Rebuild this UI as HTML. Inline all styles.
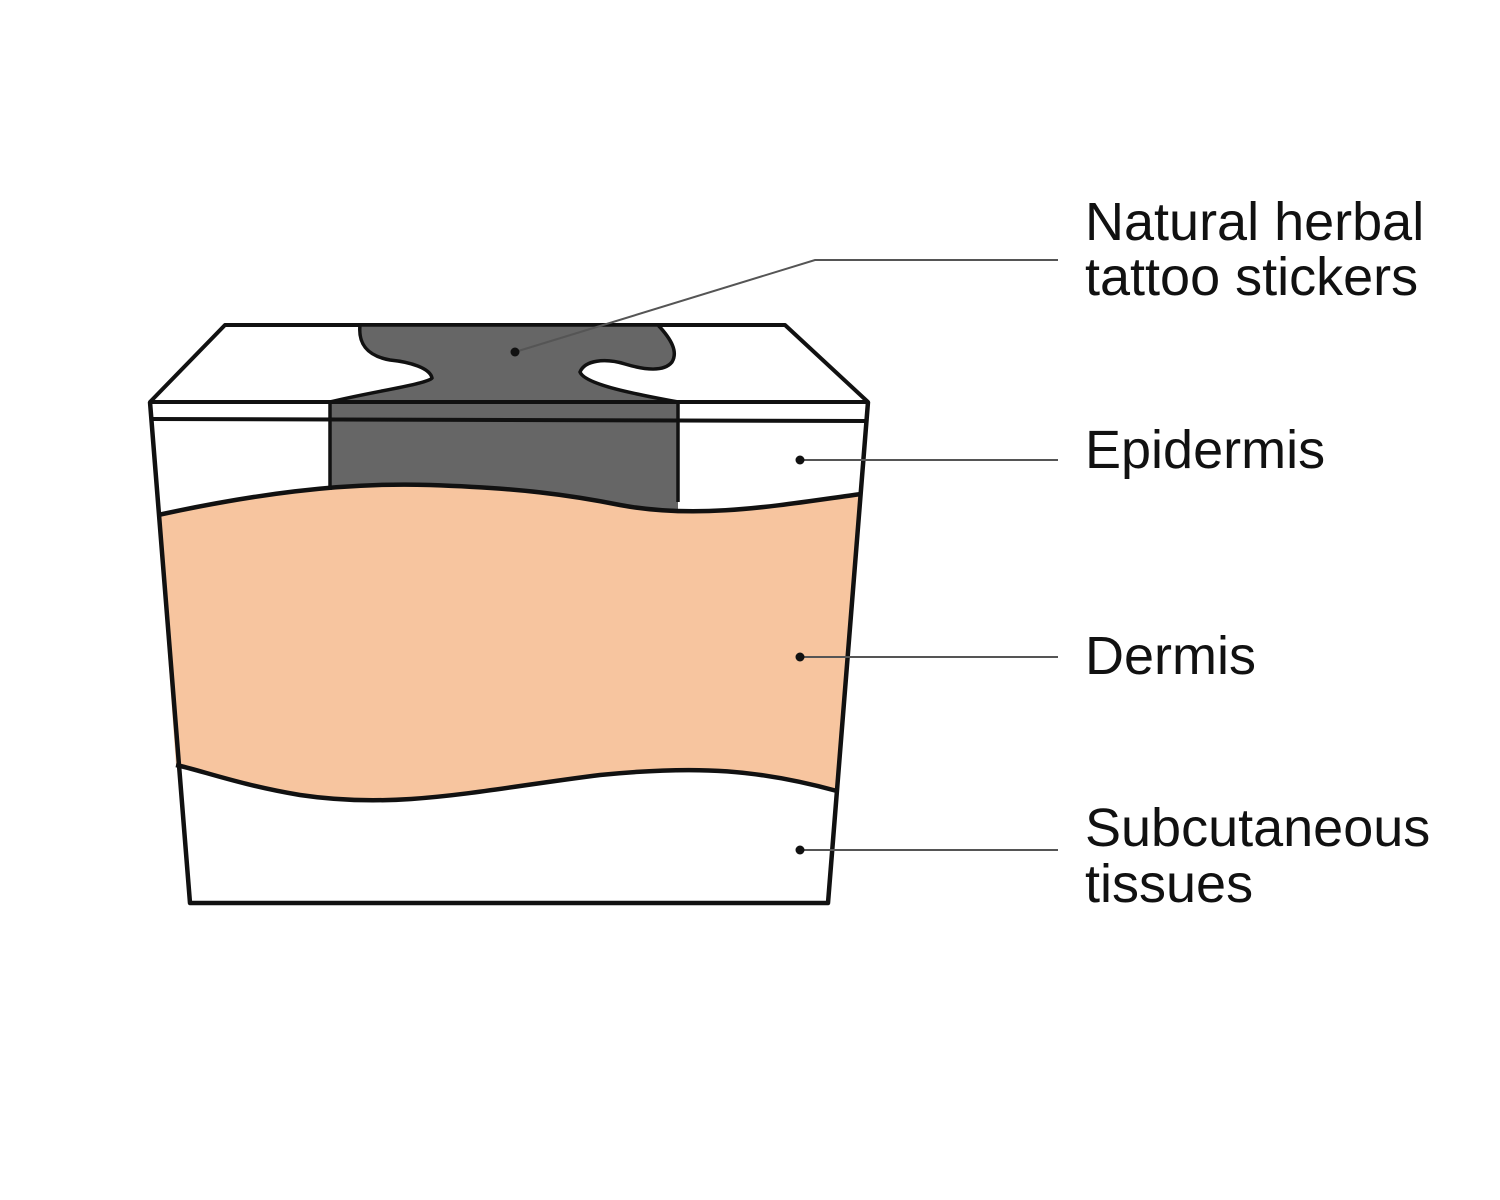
<!DOCTYPE html>
<html><head><meta charset="utf-8"><style>
html,body{margin:0;padding:0;background:#fff;width:1500px;height:1200px;overflow:hidden}
text{font-family:"Liberation Sans",Arial,sans-serif;font-size:54px;fill:#111}
</style></head><body>
<svg width="1500" height="1200" viewBox="0 0 1500 1200" xmlns="http://www.w3.org/2000/svg">
<rect x="0" y="0" width="1500" height="1200" fill="#fff"/>
<polygon points="225,325 785,325 868,402 150,402" fill="#fff" stroke="#111" stroke-width="4" stroke-linejoin="round"/>
<path d="M360,325 L658,325 C672,340 678,352 672,362 C664,372 645,370 625,364 C605,358 585,360 580,372 C585,385 640,395 678,402 L330,402 C370,392 428,384 432,378 C430,368 410,362 390,360 C368,356 358,345 360,325 Z" fill="#666" stroke="#111" stroke-width="3.5"/>
<polygon points="150,402 868,402 828,903 190,903" fill="#fff"/>
<rect x="330" y="402" width="348" height="110" fill="#666"/>
<path d="M158,515 C250,495 340,482 430,485 C520,488 570,495 620,505 C700,520 780,505 861,494 L837,791 C760,770 700,765 600,775 C480,790 400,810 300,795 C240,785 200,770 176,765 Z" fill="#f7c59f"/>
<path d="M158,515 C250,495 340,482 430,485 C520,488 570,495 620,505 C700,520 780,505 861,494" fill="none" stroke="#111" stroke-width="4.5"/>
<path d="M837,791 C760,770 700,765 600,775 C480,790 400,810 300,795 C240,785 200,770 176,765" fill="none" stroke="#111" stroke-width="4.5"/>
<line x1="330" y1="402" x2="330" y2="490" stroke="#111" stroke-width="3.5"/>
<line x1="678" y1="402" x2="678" y2="502" stroke="#111" stroke-width="3.5"/>
<line x1="151" y1="419" x2="867" y2="421" stroke="#111" stroke-width="4"/>
<line x1="150" y1="402" x2="868" y2="402" stroke="#111" stroke-width="4"/>
<polyline points="150,402 190,903 828,903 868,402" fill="none" stroke="#111" stroke-width="4.5" stroke-linejoin="round"/>
<g stroke="#555" stroke-width="2" fill="none">
<polyline points="515,352 815,260 1058,260"/>
<line x1="800" y1="460" x2="1058" y2="460"/>
<line x1="800" y1="657" x2="1058" y2="657"/>
<line x1="800" y1="850" x2="1058" y2="850"/>
</g>
<g fill="#111">
<circle cx="515" cy="352" r="4.5"/>
<circle cx="800" cy="460" r="4.5"/>
<circle cx="800" cy="657" r="4.5"/>
<circle cx="800" cy="850" r="4.5"/>
</g>
<text x="1085" y="240">Natural herbal</text>
<text x="1085" y="295">tattoo stickers</text>
<text x="1085" y="468">Epidermis</text>
<text x="1085" y="674">Dermis</text>
<text x="1085" y="846">Subcutaneous</text>
<text x="1085" y="902">tissues</text>
</svg>
</body></html>
